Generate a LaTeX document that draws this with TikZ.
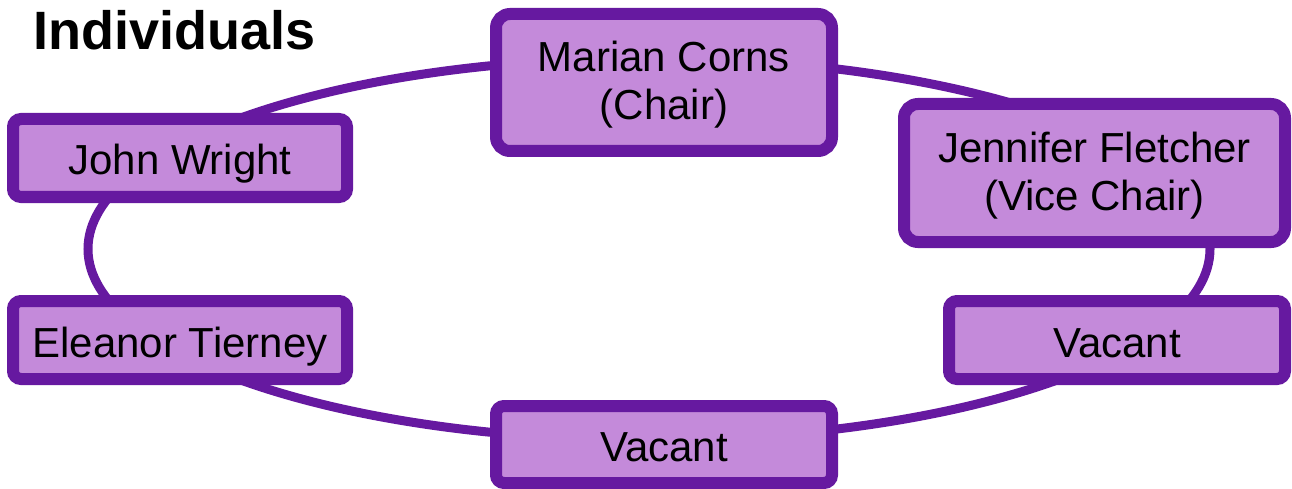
\documentclass[tikz,border=0pt]{standalone}
\usepackage{fontspec}
\setmainfont{Liberation Sans}
\definecolor{ringpurple}{RGB}{102,25,160}
\definecolor{boxfill}{RGB}{196,138,218}
\begin{document}
\begin{tikzpicture}[x=1pt,y=1pt,
  member/.style={draw=ringpurple, fill=boxfill, line width=12pt, inner sep=0pt,
    align=center, font=\fontsize{42}{48}\selectfont, text=black},
  bigbox/.style={member, rounded corners=14pt, text height=84pt, text depth=9pt},
  smallbox/.style={member, rounded corners=8pt, text height=40pt, text depth=6pt},
  ring/.style={draw=ringpurple, line width=9pt}]
\useasboundingbox (0,0) rectangle (1292,-489);
\draw[ring] (649,-249) ellipse [x radius=561, y radius=191];
\node[bigbox, minimum width=336pt, minimum height=137pt] (marian) at (664,-82.5) {Marian Corns\\(Chair)};
\node[bigbox, minimum width=381pt, minimum height=138pt] (jennifer) at (1094.5,-173) {Jennifer Fletcher\\(Vice Chair)};
\node[smallbox, minimum width=334pt, minimum height=78pt] (john) at (180,-158) {John Wright};
\node[smallbox, minimum width=334pt, minimum height=78pt] (eleanor) at (180,-340) {Eleanor Tierney};
\node[smallbox, minimum width=336pt, minimum height=78pt] (vacantr) at (1117,-340) {Vacant};
\node[smallbox, minimum width=336pt, minimum height=77pt] (vacantb) at (664,-444.5) {Vacant};
\node[anchor=base west, inner sep=0pt, font=\bfseries\fontsize{54}{60}\selectfont] (title) at (33,-50) {Individuals};
\end{tikzpicture}
\end{document}
